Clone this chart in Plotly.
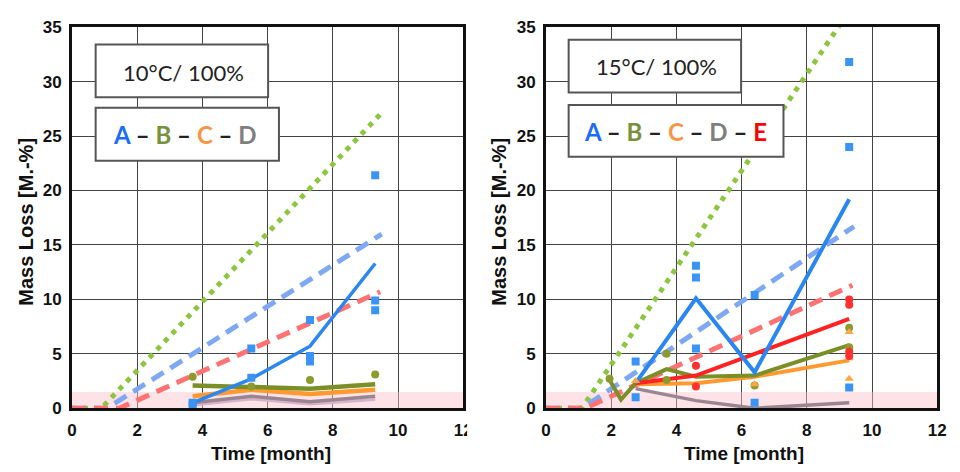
import plotly.graph_objects as go

W, H = 960, 472

# ---------------- data : 10°C / 100 % ----------------
t10 = [3.7, 5.5, 7.3, 9.3]
A10_mean = [0.5, 2.7, 5.7, 13.3]
B10_mean = [2.1, 2.0, 1.8, 2.2]
C10_mean = [1.1, 1.7, 1.3, 1.7]
D10_mean = [0.5, 1.1, 0.6, 1.1]
D10_low = [0.3, 0.85, 0.4, 0.8]
A10_pts_x = [3.7, 3.7, 5.5, 5.5, 7.3, 7.3, 7.3, 9.3, 9.3, 9.3]
A10_pts_y = [0.5, 0.3, 5.5, 2.8, 8.1, 4.8, 4.3, 21.4, 9.9, 9.0]
B10_pts_x = [3.7, 5.5, 7.3, 9.3]
B10_pts_y = [2.9, 2.0, 2.6, 3.1]
mG10_x, mG10_y = [0, 0.9, 9.55], [0, 0, 27.3]
mA10_x, mA10_y = [0, 1.07, 9.5], [0, 0, 16.0]
mE10_x, mE10_y = [0, 1.45, 9.45], [0, 0, 10.7]

# ---------------- data : 15°C / 100 % ----------------
A15_x, A15_y = [2.75, 4.6, 6.4, 9.3], [2.3, 10.1, 3.3, 19.2]
B15_x, B15_y = [1.95, 2.3, 2.75, 3.7, 4.6, 6.4, 9.3], [2.6, 0.8, 2.3, 3.6, 2.9, 3.0, 5.8]
C15_x, C15_y = [2.75, 4.6, 6.4, 9.3], [2.2, 2.3, 2.9, 4.4]
D15_x, D15_y = [2.75, 4.6, 6.4, 9.3], [1.8, 0.7, 0.0, 0.5]
E15_x, E15_y = [2.75, 4.6, 6.4, 9.3], [2.3, 3.0, 5.0, 8.2]
A15_pts_x = [2.75, 2.75, 4.6, 4.6, 4.6, 6.4, 6.4, 9.3, 9.3, 9.3]
A15_pts_y = [4.3, 1.0, 13.1, 12.0, 5.5, 10.4, 0.5, 31.8, 24.0, 1.9]
B15_pts_x = [1.95, 3.7, 3.7, 6.4, 9.3, 9.3]
B15_pts_y = [2.7, 5.0, 2.6, 2.1, 7.4, 5.6]
C15_pts_x = [2.75, 6.4, 9.3, 9.3, 9.3]
C15_pts_y = [2.5, 2.2, 7.0, 4.6, 2.7]
E15_pts_x = [4.6, 4.6, 9.3, 9.3, 9.3, 9.3]
E15_pts_y = [3.9, 2.0, 10.0, 9.5, 5.2, 4.8]
mG15_x, mG15_y = [0, 1.1, 9.3], [0, 0, 36.5]
mA15_x, mA15_y = [0, 1.1, 9.45], [0, 0, 16.7]
mE15_x, mE15_y = [0, 1.2, 9.4], [0, 0, 11.3]

panel_titles = ["10°C/ 100%", "15°C/ 100%"]
x_ticks = [0, 2, 4, 6, 8, 10, 12]
y_ticks = [0, 5, 10, 15, 20, 25, 30, 35]

# ---------------- styles ----------------
cA, cB, cC, cD, cE = "#2a86f2", "#7b8f28", "#ff9a30", "#9a8590", "#ff2222"
cA_pt, cB_pt, cC_pt, cE_pt = "#3a94f5", "#8d9a2e", "#ffa640", "#ff3030"
cMG, cMA, cME = "#8cc63f", "#7ea8f4", "#ff7272"

fig = go.Figure()


def add(x, y, xa, ya, **kw):
    fig.add_trace(go.Scatter(x=x, y=y, xaxis=xa, yaxis=ya, showlegend=False,
                             hoverinfo="skip", **kw))


def panel(xa, ya, mG, mA, mE, lines, points):
    add(mG[0], mG[1], xa, ya, mode="lines", line=dict(color=cMG, width=5, dash="5px,6px"))
    add(mA[0], mA[1], xa, ya, mode="lines", line=dict(color=cMA, width=5, dash="14px,8px"))
    add(mE[0], mE[1], xa, ya, mode="lines", line=dict(color=cME, width=5, dash="14px,8px"))
    for (x, y, c, w) in lines:
        add(x, y, xa, ya, mode="lines", line=dict(color=c, width=w))
    for (x, y, c, s) in points:
        add(x, y, xa, ya, mode="markers", marker=dict(color=c, size=8, symbol=s))


panel("x", "y", (mG10_x, mG10_y), (mA10_x, mA10_y), (mE10_x, mE10_y),
      [(t10, D10_low, "#d6b4c8", 3), (t10, D10_mean, cD, 3.5),
       (t10, C10_mean, cC, 4.5), (t10, B10_mean, cB, 4.5), (t10, A10_mean, cA, 3.5)],
      [(A10_pts_x, A10_pts_y, cA_pt, "square"), (B10_pts_x, B10_pts_y, cB_pt, "circle")])

panel("x2", "y2", (mG15_x, mG15_y), (mA15_x, mA15_y), (mE15_x, mE15_y),
      [(D15_x, D15_y, cD, 3.5), (C15_x, C15_y, cC, 4), (B15_x, B15_y, cB, 4),
       (E15_x, E15_y, cE, 4), (A15_x, A15_y, cA, 4)],
      [(A15_pts_x, A15_pts_y, cA_pt, "square"), (B15_pts_x, B15_pts_y, cB_pt, "circle"),
       (C15_pts_x, C15_pts_y, cC_pt, "triangle-up"), (E15_pts_x, E15_pts_y, cE_pt, "circle")])

# ---------------- axes ----------------
px = lambda v: v / W
py = lambda v: (H - v) / H
dom_left = [px(68), px(465)]
dom_right = [px(549), px(946)]
dom_y = [py(416), py(19)]

tickfont = dict(family="Liberation Sans, Arial, sans-serif", size=17, color="#111", weight="bold")
axcommon = dict(showgrid=True, gridcolor="#444", gridwidth=1, showline=True, linecolor="#111",
                linewidth=3, mirror=True, ticks="", zeroline=False, tickfont=tickfont,
                ticklabelstandoff=4, fixedrange=True)

fig.update_layout(
    width=W, height=H, margin=dict(l=0, r=0, t=0, b=0),
    paper_bgcolor="white", plot_bgcolor="white",
    xaxis=dict(domain=dom_left, range=[0, 12], tickvals=x_ticks, anchor="y", **axcommon),
    yaxis=dict(domain=dom_y, range=[0, 35], tickvals=y_ticks, anchor="x", **axcommon),
    xaxis2=dict(domain=dom_right, range=[0, 12], tickvals=x_ticks, anchor="y2", **axcommon),
    yaxis2=dict(domain=dom_y, range=[0, 35], tickvals=y_ticks, anchor="x2", **axcommon),
)

shapes = []
# pink band near zero
for xr, yr in (("x", "y"), ("x2", "y2")):
    shapes.append(dict(type="rect", xref=xr, yref=yr, x0=0, x1=12, y0=0, y1=1.5,
                       fillcolor="rgba(250,190,205,0.45)", line=dict(width=0), layer="between"))

# label boxes (pixel positions)
boxes = [(92, 37, 267, 92), (92, 103, 278, 158), (572, 32, 747, 87), (572, 100, 790, 154)]
for (x0, y0, x1, y1) in boxes:
    shapes.append(dict(type="rect", xref="paper", yref="paper", x0=px(x0), x1=px(x1),
                       y0=py(y1), y1=py(y0), fillcolor="white",
                       line=dict(color="#555", width=2), layer="above"))
# cropped edge of left "12" tick label as in the reference
shapes.append(dict(type="rect", xref="paper", yref="paper", x0=px(469), x1=px(492),
                   y0=py(450), y1=py(420), fillcolor="white", line=dict(width=0), layer="above"))
fig.update_layout(shapes=shapes)

lab = dict(family="Lato, Open Sans, sans-serif", size=22, color="#222")
sp = lambda c, t: f"<span style='color:{c}'>{t}</span>"
dash = " – "
leg10 = "<b>" + sp("#1a6cff", "A") + dash + sp("#76923c", "B") + dash + sp("#f79646", "C") + dash + sp("#7f7f7f", "D") + "</b>"
leg15 = leg10[:-4] + dash + sp("#ff0000", "E") + "</b>"

titlefont = dict(family="Liberation Sans, Arial, sans-serif", size=19, color="#111", weight="bold")
ann = [
    dict(x=px(181), y=py(66), text=panel_titles[0], font=lab),
    dict(x=px(183), y=py(131), text=leg10, font=dict(lab, size=24)),
    dict(x=px(661), y=py(60), text=panel_titles[1], font=lab),
    dict(x=px(680), y=py(128), text=leg15, font=dict(lab, size=24)),
    dict(x=px(270), y=py(463), text="Time [month]", font=titlefont),
    dict(x=px(750), y=py(463), text="Time [month]", font=titlefont),
    dict(x=px(21), y=py(222), text="Mass Loss [M.-%]", textangle=-90, font=dict(titlefont, size=20)),
    dict(x=px(501), y=py(222), text="Mass Loss [M.-%]", textangle=-90, font=dict(titlefont, size=20)),
]
for a in ann:
    a.update(xref="paper", yref="paper", showarrow=False, xanchor="center", yanchor="middle",
             borderpad=0)
fig.update_layout(annotations=ann)

fig.write_html("out.html", config={"displayModeBar": False})
